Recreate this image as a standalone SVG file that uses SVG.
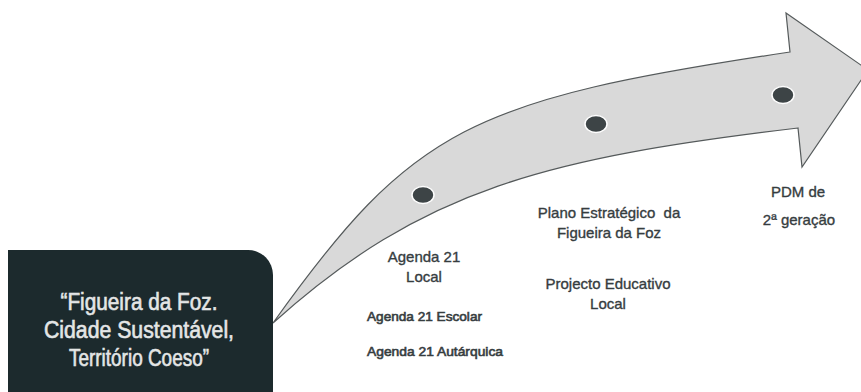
<svg xmlns="http://www.w3.org/2000/svg" width="861" height="392" viewBox="0 0 861 392">
<style>
.lbl{font-family:"Liberation Sans",Arial,sans-serif;fill:#363d3f;stroke:#363d3f;stroke-width:0.35;text-anchor:middle;font-size:15px}
.sub{font-family:"Liberation Sans",Arial,sans-serif;fill:#363d3f;stroke:#363d3f;stroke-width:0.6;font-size:13px}
.box{font-family:"Liberation Sans",Arial,sans-serif;fill:#e4e6e6;stroke:#e4e6e6;stroke-width:0.6;text-anchor:middle;font-size:23px}
.dot{fill:#3d4446;stroke:#ffffff;stroke-width:1.5}
</style>
<rect width="861" height="392" fill="#ffffff"/>
<g id="connectors">
<path d="M273,323 C413,127 470,100 790,52 L786,13 L868,70 L802,167 L798,128 C548,158 423,188 273,323 Z" fill="#d9d9d9" stroke="#555a5b" stroke-width="1.2" stroke-linejoin="miter"/>
</g>
<g id="vision">
<path d="M8,250 H248 A25,25 0 0 1 273,275 V392 H8 Z" fill="#1c2a2d"/>
<text class="box" x="139" y="310" textLength="157" lengthAdjust="spacingAndGlyphs">“Figueira da Foz.</text>
<text class="box" x="139" y="338" textLength="190" lengthAdjust="spacingAndGlyphs">Cidade Sustentável,</text>
<text class="box" x="139" y="366" textLength="140" lengthAdjust="spacingAndGlyphs">Território Coeso”</text>
</g>
<g id="agenda21">
<ellipse class="dot" cx="423" cy="195" rx="11" ry="8.5"/>
<text class="lbl" x="424" y="262">Agenda 21</text>
<text class="lbl" x="424" y="282">Local</text>
<text class="sub" x="367" y="321" textLength="115" lengthAdjust="spacingAndGlyphs">Agenda 21 Escolar</text>
<text class="sub" x="367" y="356" textLength="136" lengthAdjust="spacingAndGlyphs">Agenda 21 Autárquica</text>
</g>
<g id="plano">
<ellipse class="dot" cx="596" cy="124" rx="11" ry="8.5"/>
<text class="lbl" x="609" y="218" xml:space="preserve">Plano Estratégico  da</text>
<text class="lbl" x="609" y="238">Figueira da Foz</text>
<text class="lbl" x="608" y="289">Projecto Educativo</text>
<text class="lbl" x="608" y="309">Local</text>
</g>
<g id="pdm">
<ellipse class="dot" cx="783" cy="95" rx="11" ry="8.5"/>
<text class="lbl" x="798" y="197">PDM de</text>
<text class="lbl" x="799" y="225">2ª geração</text>
</g>
</svg>
